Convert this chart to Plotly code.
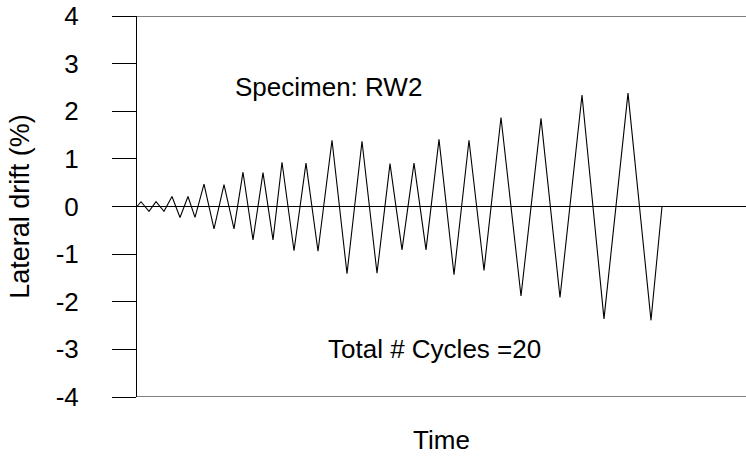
import plotly.graph_objects as go

# Loading history: time (arbitrary units) and lateral drift (%)
time = [0, 4, 12, 19, 27, 35, 43, 51, 58, 67, 77, 87, 97, 106, 116, 126, 136,
        145, 157, 169, 181, 195, 210, 225, 240, 253, 265, 277, 289, 302, 317,
        332, 347, 364, 384, 404, 423, 445, 467, 491, 514, 525]
drift = [0, 0.1, -0.1, 0.1, -0.1, 0.21, -0.23, 0.21, -0.23, 0.47, -0.47, 0.46,
         -0.47, 0.72, -0.7, 0.71, -0.7, 0.93, -0.93, 0.91, -0.94, 1.39, -1.41,
         1.37, -1.40, 0.9, -0.91, 0.91, -0.91, 1.41, -1.43, 1.39, -1.34, 1.87,
         -1.88, 1.85, -1.91, 2.34, -2.36, 2.38, -2.39, 0]
y_ticks = [-4, -3, -2, -1, 0, 1, 2, 3, 4]
x_range = [0, 609]

FONT = "Liberation Sans, Arial, sans-serif"
FS = 26

fig = go.Figure()
fig.add_trace(go.Scatter(x=time, y=drift, mode="lines",
                         line=dict(color="black", width=1.1),
                         showlegend=False, hoverinfo="skip"))

fig.update_layout(
    width=746, height=457,
    margin=dict(l=137, r=0, t=16, b=60),
    paper_bgcolor="white", plot_bgcolor="white",
    font=dict(family=FONT, size=FS, color="black"),
    xaxis=dict(range=x_range, showgrid=False, zeroline=False, showline=False,
               showticklabels=False, ticks="", automargin=False,
               title=dict(text="Time", font=dict(size=FS), standoff=33)),
    yaxis=dict(range=[-4, 4], tickvals=y_ticks, ticktext=[str(v) for v in y_ticks],
               showgrid=False, zeroline=True, zerolinecolor="black", zerolinewidth=1,
               showline=True, linecolor="black", linewidth=1, automargin=False,
               ticks="outside", ticklen=24, tickcolor="black", tickwidth=1,
               ticklabelstandoff=28, tickfont=dict(size=FS),
               title=dict(text="Lateral drift (%)", font=dict(size=27), standoff=18)),
    shapes=[
        dict(type="line", xref="paper", yref="y", x0=0, x1=1, y0=4, y1=4,
             line=dict(color="black", width=1)),
        dict(type="line", xref="paper", yref="y", x0=0, x1=1, y0=-4, y1=-4,
             line=dict(color="black", width=1)),
    ],
    annotations=[
        dict(x=96, y=2.5, xref="x", yref="y", text="Specimen: RW2", showarrow=False,
             xanchor="left", yanchor="middle", font=dict(size=FS)),
        dict(x=189, y=-3.0, xref="x", yref="y", text="Total # Cycles =20", showarrow=False,
             xanchor="left", yanchor="middle", font=dict(size=FS)),
    ],
)

fig.write_html("out.html")
